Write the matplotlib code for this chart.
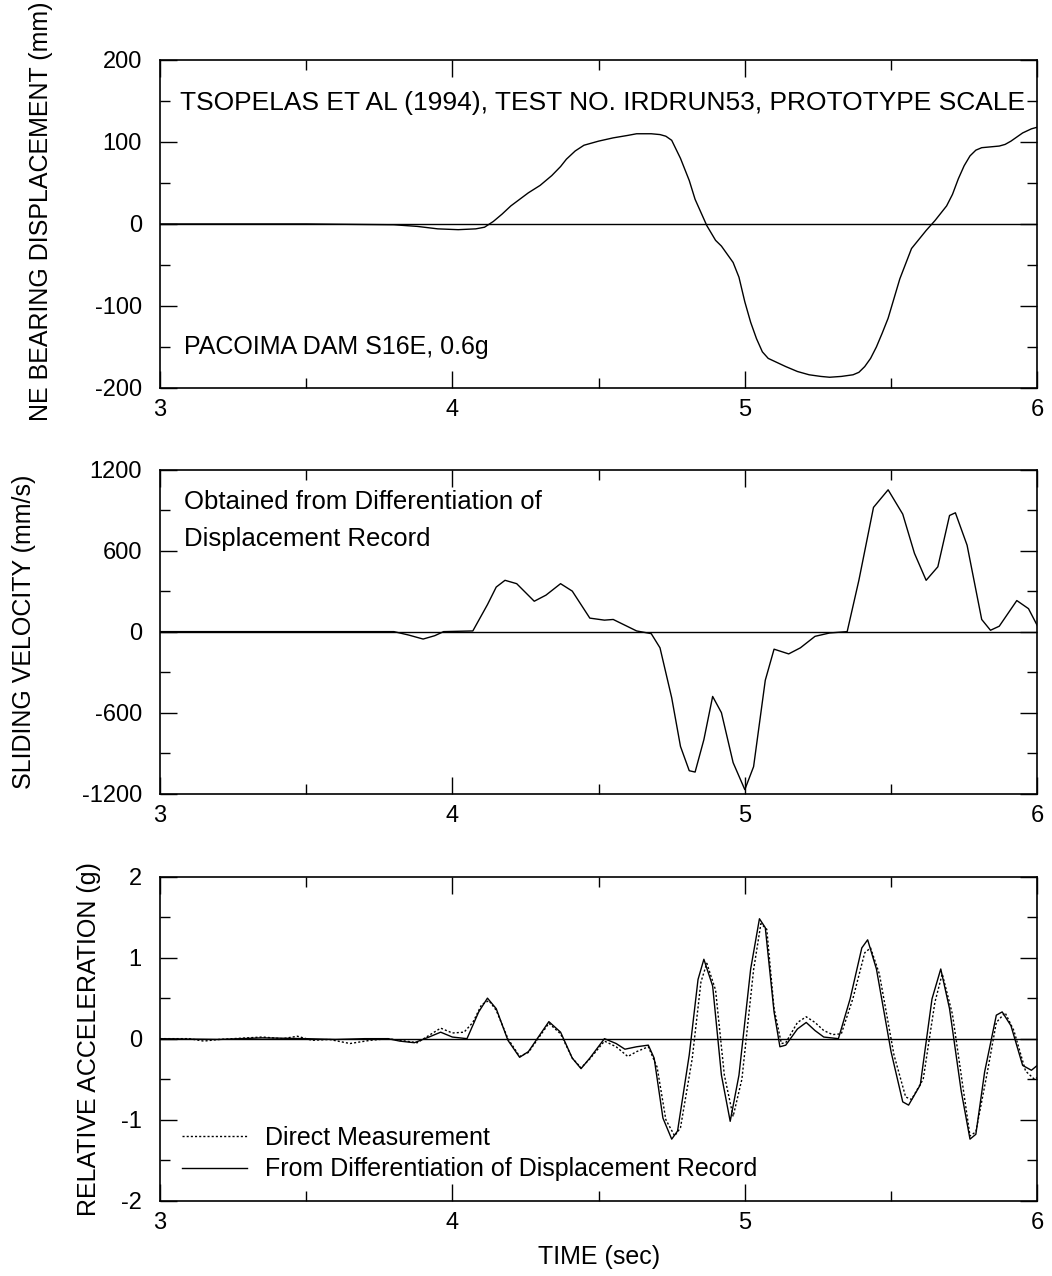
import matplotlib
matplotlib.use('Agg')
import matplotlib.pyplot as plt
from matplotlib.ticker import MultipleLocator

# --- displacement record (mm) ---
t_disp = [3.0, 3.5, 3.8, 3.88, 3.95, 4.02, 4.08, 4.11, 4.14, 4.17, 4.2, 4.26, 4.3, 4.34,
          4.37, 4.39, 4.42, 4.45, 4.5, 4.55, 4.6, 4.63, 4.68, 4.71, 4.73, 4.75, 4.78,
          4.81, 4.83, 4.87, 4.9, 4.92, 4.96, 4.98, 5.0, 5.02, 5.04, 5.06, 5.08, 5.11,
          5.14, 5.18, 5.22, 5.26, 5.29, 5.33, 5.37, 5.39, 5.41, 5.43, 5.45, 5.47, 5.49,
          5.53, 5.57, 5.62, 5.65, 5.69, 5.71, 5.73, 5.75, 5.77, 5.79, 5.81, 5.84, 5.87,
          5.89, 5.91, 5.95, 5.98, 6.0]
disp = [0, 0, -1, -3, -6, -7, -6, -4, 3, 12, 22, 38, 47, 59,
        70, 79, 89, 96, 101, 105, 108, 110, 110, 109, 107, 102, 80,
        53, 30, -2, -20, -27, -47, -65, -95, -120, -140, -156, -164, -169,
        -174, -180, -184, -186, -187, -186, -184, -181, -174, -164, -150, -133, -115,
        -67, -30, -8, 4, 22, 36, 55, 71, 83, 90, 93, 94, 95,
        97, 101, 111, 116, 118]

# --- sliding velocity (mm/s) ---
t_vel = [3.0, 3.5, 3.8, 3.85, 3.9, 3.94, 3.97, 4.07, 4.12, 4.15, 4.18, 4.22, 4.28, 4.32,
         4.37, 4.41, 4.47, 4.52, 4.55, 4.63, 4.68, 4.71, 4.75, 4.78, 4.81, 4.83, 4.86,
         4.89, 4.92, 4.96, 5.0, 5.03, 5.07, 5.1, 5.15, 5.19, 5.24, 5.29, 5.35, 5.39,
         5.44, 5.49, 5.54, 5.58, 5.62, 5.66, 5.70, 5.72, 5.76, 5.81, 5.84, 5.87, 5.93,
         5.97, 6.0]
vel = [0, 0, 0, -25, -55, -30, 0, 5, 200, 330, 380, 355, 225, 270,
       355, 300, 100, 85, 90, 5, -15, -120, -490, -850, -1030, -1040, -800,
       -480, -600, -970, -1170, -1000, -360, -130, -165, -120, -35, -10, 0, 380,
       920, 1050, 870, 580, 380, 480, 860, 880, 640, 90, 10, 40, 230,
       170, 45]

# --- relative acceleration (g) ---
t_acc = [3.0, 3.2, 3.35, 3.5, 3.6, 3.7, 3.78, 3.82, 3.87, 3.92, 3.96, 4.0, 4.05, 4.09,
         4.12, 4.15, 4.19, 4.23, 4.26, 4.33, 4.37, 4.41, 4.44, 4.47, 4.52, 4.56, 4.59,
         4.63, 4.67, 4.69, 4.72, 4.75, 4.77, 4.81, 4.84, 4.86, 4.89, 4.92, 4.95, 4.98,
         5.02, 5.05, 5.07, 5.10, 5.12, 5.14, 5.18, 5.21, 5.24, 5.27, 5.32, 5.36, 5.40,
         5.42, 5.45, 5.50, 5.54, 5.56, 5.60, 5.64, 5.67, 5.70, 5.74, 5.77, 5.79, 5.82,
         5.86, 5.88, 5.91, 5.95, 5.98, 6.0]
acc = [0, -0.01, 0.01, 0.0, -0.01, 0.0, 0.0, -0.03, -0.05, 0.02, 0.08, 0.02, 0.0, 0.33,
       0.5, 0.37, -0.02, -0.23, -0.16, 0.21, 0.08, -0.24, -0.37, -0.24, 0.0, -0.06, -0.13,
       -0.10, -0.08, -0.24, -0.98, -1.24, -1.14, -0.2, 0.73, 0.98, 0.65, -0.45, -1.02, -0.45,
       0.86, 1.48, 1.37, 0.33, -0.1, -0.08, 0.12, 0.2, 0.1, 0.02, 0.0, 0.49, 1.12,
       1.22, 0.86, -0.16, -0.78, -0.82, -0.57, 0.49, 0.86, 0.37, -0.65, -1.24, -1.18, -0.41,
       0.29, 0.33, 0.16, -0.33, -0.39, -0.33]

t_dir = [3.0, 3.1, 3.15, 3.2, 3.3, 3.35, 3.42, 3.47, 3.52, 3.58, 3.65, 3.72, 3.78, 3.84,
         3.88, 3.92, 3.96, 4.0, 4.04, 4.07, 4.1, 4.125, 4.15, 4.19, 4.23, 4.26, 4.33,
         4.37, 4.41, 4.44, 4.47, 4.52, 4.56, 4.6, 4.63, 4.67, 4.7, 4.73, 4.76, 4.78,
         4.82, 4.85, 4.87, 4.9, 4.93, 4.96, 4.99, 5.03, 5.055, 5.075, 5.1, 5.125, 5.14,
         5.18, 5.21, 5.24, 5.27, 5.3, 5.33, 5.37, 5.41, 5.43, 5.46, 5.51, 5.55, 5.57,
         5.61, 5.65, 5.675, 5.71, 5.75, 5.77, 5.79, 5.83, 5.86, 5.89, 5.92, 5.96, 5.99, 6.0]
acc_dir = [0, 0, -0.03, -0.01, 0.01, 0.02, 0.0, 0.03, -0.02, -0.01, -0.06, -0.02, 0.0, -0.03,
           -0.05, 0.04, 0.13, 0.07, 0.08, 0.2, 0.42, 0.47, 0.35, 0.0, -0.22, -0.17, 0.19,
           0.06, -0.24, -0.36, -0.25, -0.03, -0.1, -0.22, -0.16, -0.1, -0.35, -1.0, -1.2, -1.1,
           -0.25, 0.7, 0.93, 0.6, -0.45, -0.96, -0.5, 0.85, 1.42, 1.35, 0.37, -0.06, -0.05,
           0.2, 0.27, 0.2, 0.1, 0.05, 0.06, 0.5, 1.06, 1.12, 0.8, -0.2, -0.72, -0.75,
           -0.5, 0.45, 0.8, 0.3, -0.7, -1.2, -1.15, -0.4, 0.2, 0.32, 0.1, -0.4, -0.5, -0.48]

plt.rcParams['font.family'] = ['Liberation Sans', 'DejaVu Sans']
plt.rcParams['axes.unicode_minus'] = False

fig = plt.figure(figsize=(10.52, 12.76), dpi=100)
L, W = 0.152, 0.834
ax1 = fig.add_axes([L, 0.696, W, 0.257])
ax2 = fig.add_axes([L, 0.378, W, 0.254])
ax3 = fig.add_axes([L, 0.059, W, 0.254])

def style(ax, ylim, major, minor):
    ax.set_xlim(3, 6)
    ax.set_ylim(*ylim)
    ax.xaxis.set_major_locator(MultipleLocator(1))
    ax.xaxis.set_minor_locator(MultipleLocator(0.5))
    ax.yaxis.set_major_locator(MultipleLocator(major))
    ax.yaxis.set_minor_locator(MultipleLocator(minor))
    ax.tick_params(which='both', direction='in', top=True, right=True, labelsize=17, width=1)
    ax.tick_params(which='major', length=12)
    ax.tick_params(which='minor', length=7)
    ax.tick_params(axis='x', pad=8)
    ax.tick_params(axis='y', pad=13)
    for s in ax.spines.values():
        s.set_linewidth(1.2)
    ax.axhline(0, color='black', lw=1.0)

style(ax1, (-200, 200), 100, 50)
ax1.plot(t_disp, disp, color='black', lw=1.0)
ax1.set_ylabel('NE BEARING DISPLACEMENT (mm)', fontsize=18)
ax1.yaxis.set_label_coords(-0.122, 0.54)
ax1.text(0.023, 0.87, 'TSOPELAS ET AL (1994), TEST NO. IRDRUN53, PROTOTYPE SCALE',
         transform=ax1.transAxes, fontsize=19, va='center')
ax1.text(0.028, 0.125, 'PACOIMA DAM S16E, 0.6g',
         transform=ax1.transAxes, fontsize=18, va='center')

style(ax2, (-1200, 1200), 600, 300)
ax2.plot(t_vel, vel, color='black', lw=1.0)
ax2.set_ylabel('SLIDING VELOCITY (mm/s)', fontsize=18)
ax2.yaxis.set_label_coords(-0.141, 0.5)
ax2.text(0.028, 0.9, 'Obtained from Differentiation of',
         transform=ax2.transAxes, fontsize=18.5, va='center')
ax2.text(0.028, 0.785, 'Displacement Record',
         transform=ax2.transAxes, fontsize=18.5, va='center')

style(ax3, (-2, 2), 1, 0.5)
ax3.plot(t_dir, acc_dir, color='black', lw=1.0, ls=(0, (1.5, 1.5)), label='Direct Measurement')
ax3.plot(t_acc, acc, color='black', lw=1.0, label='From Differentiation of Displacement Record')
ax3.set_ylabel('RELATIVE ACCELERATION (g)', fontsize=18)
ax3.yaxis.set_label_coords(-0.067, 0.5)
ax3.set_xlabel('TIME (sec)', fontsize=18, labelpad=8)
leg = ax3.legend(loc='lower left', bbox_to_anchor=(0.0, -0.01), frameon=False,
                 prop={'size': 18}, handlelength=2.6,
                 handletextpad=0.7, labelspacing=0.3, borderaxespad=0.5)

fig.savefig('out.png', dpi=100)
